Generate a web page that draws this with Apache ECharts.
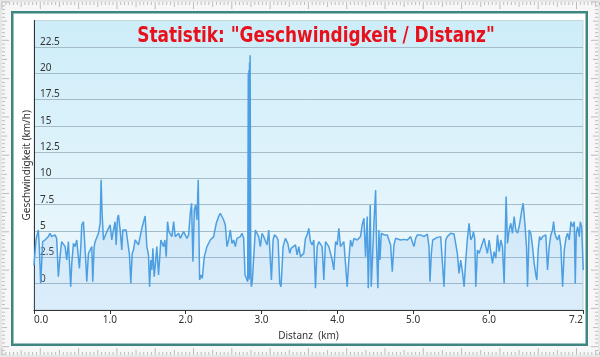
<!DOCTYPE html>
<html>
<head>
<meta charset="utf-8">
<script src="https://cdn.jsdelivr.net/npm/echarts@6/dist/echarts.min.js"></script>
<style>
html,body{margin:0;padding:0;background:#fafafa;}
#chart{width:600px;height:357px;}
</style>
</head>
<body>
<div id="chart"></div>
<script>
// ---- Data ----
const titleText = 'Statistik: "Geschwindigkeit / Distanz"';
const xAxisName = 'Distanz  (km)';
const yAxisName = 'Geschwindigkeit (km/h)';
const xTickValues = [0, 1, 2, 3, 4, 5, 6, 7.24];
const yMin = -2.5, yMax = 25, yStep = 2.5;

const distanceKm = [
0.000,0.026,0.057,0.070,0.088,0.101,0.114,0.145,0.167,0.189,
0.211,0.233,0.255,0.277,0.299,0.321,0.343,0.365,0.387,0.410,
0.432,0.454,0.467,0.484,0.498,0.520,0.542,0.564,0.586,0.599,
0.616,0.630,0.652,0.674,0.687,0.696,0.718,0.740,0.762,0.775,
0.793,0.806,0.828,0.850,0.872,0.885,0.898,0.916,0.938,0.960,
0.982,1.004,1.026,1.048,1.070,1.083,1.101,1.114,1.136,1.158,
1.171,1.189,1.215,1.237,1.259,1.277,1.295,1.312,1.334,1.356,
1.378,1.400,1.422,1.444,1.466,1.488,1.510,1.524,1.541,1.554,
1.568,1.585,1.598,1.620,1.642,1.656,1.673,1.691,1.708,1.726,
1.744,1.761,1.779,1.797,1.819,1.841,1.863,1.885,1.907,1.929,
1.951,1.973,1.995,2.017,2.039,2.061,2.078,2.096,2.114,2.131,
2.149,2.166,2.184,2.202,2.219,2.246,2.281,2.325,2.369,2.404,
2.435,2.457,2.479,2.501,2.523,2.545,2.567,2.589,2.611,2.633,
2.655,2.677,2.699,2.721,2.743,2.765,2.783,2.800,2.818,
2.826,2.830,2.834,2.838,2.842,2.846,2.850,2.857,2.862,2.868,
2.880,2.919,2.941,2.963,2.985,3.007,3.029,3.052,3.074,3.096,
3.118,3.131,3.153,3.170,3.197,3.219,3.241,3.258,3.285,3.316,
3.347,3.373,3.391,3.417,3.448,3.470,3.492,3.514,3.536,3.558,
3.580,3.602,3.624,3.646,3.668,3.690,3.712,3.734,3.756,3.778,
3.800,3.822,3.844,3.866,3.888,3.910,3.932,3.954,3.976,3.998,
4.020,4.042,4.064,4.086,4.108,4.130,4.152,4.174,4.196,4.218,
4.240,4.262,4.284,4.306,4.328,4.351,4.373,4.394,4.408,4.421,
4.434,4.447,4.461,4.483,4.505,4.518,4.535,4.549,4.562,4.580,
4.615,4.659,4.681,4.703,4.725,4.747,4.769,4.791,4.835,4.879,
4.923,4.945,4.967,4.989,5.011,5.033,5.055,5.077,5.099,5.143,
5.165,5.187,5.209,5.222,5.240,5.258,5.275,5.319,5.363,5.385,
5.407,5.429,5.451,5.473,5.495,5.539,5.561,5.583,5.605,5.627,
5.650,5.672,5.694,5.716,5.738,5.760,5.782,5.795,5.812,5.826,
5.848,5.870,5.892,5.914,5.936,5.958,5.980,6.002,6.024,6.046,
6.068,6.090,6.112,6.134,6.156,6.178,6.200,6.213,6.226,6.244,
6.266,6.288,6.310,6.332,6.354,6.376,6.398,6.420,6.433,6.451,
6.473,6.495,6.508,6.530,6.552,6.574,6.596,6.618,6.631,6.649,
6.667,6.684,6.706,6.728,6.750,6.772,6.794,6.816,6.838,6.852,
6.869,6.882,6.904,6.926,6.948,6.971,6.993,7.015,7.037,7.059,
7.081,7.103,7.125,7.138,7.151,7.169,7.191,7.204,7.222,7.243
];

const speedKmh = [
1.77,4.15,5.10,3.52,0.03,1.93,3.99,4.15,3.99,4.47,
4.79,4.47,4.31,4.63,4.31,0.67,2.57,3.99,4.15,3.52,
2.25,3.99,4.15,-0.29,1.93,3.83,3.52,4.15,4.31,1.46,
3.36,5.58,5.89,5.74,1.62,0.19,2.88,3.20,3.52,0.19,
3.52,3.99,3.83,4.79,5.74,9.86,6.69,4.15,4.31,4.94,
5.26,5.58,4.15,5.10,5.89,3.68,6.21,6.53,5.10,3.20,
5.10,4.94,5.10,5.26,2.73,0.03,2.88,3.20,4.15,4.31,
3.68,4.47,5.26,5.42,6.43,3.52,2.73,-0.29,2.25,1.30,
3.36,0.67,1.62,3.52,0.82,2.25,4.15,4.31,3.52,4.15,
2.57,5.89,4.94,4.79,4.47,5.89,4.47,4.31,4.79,4.31,
4.63,4.94,4.79,4.31,4.63,6.69,7.64,2.09,7.00,7.48,
6.05,9.86,0.35,0.82,0.51,2.57,3.52,4.15,4.47,5.74,
6.37,6.69,6.85,6.05,5.58,3.52,4.15,5.10,3.83,4.15,
3.52,4.31,4.15,4.47,4.79,4.31,0.82,0.51,0.19,
20.0,0.5,20.3,0.4,21.0,0.6,21.7,4.8,0.0,-0.29,
0.35,5.10,4.79,4.47,3.52,4.79,4.47,4.31,3.68,5.10,
5.26,0.35,4.15,4.63,4.47,4.15,0.03,-0.29,3.52,4.31,
3.83,2.88,3.36,3.20,3.68,2.73,3.52,2.57,2.41,2.88,
4.31,4.63,5.26,3.99,3.68,4.15,-0.44,3.52,3.99,4.15,
3.52,0.35,3.99,3.83,3.52,3.68,2.25,1.30,3.99,3.68,
5.26,3.52,3.68,3.99,1.93,-0.29,2.25,4.15,3.52,4.31,
4.47,4.15,3.99,4.47,5.58,6.21,2.57,6.37,-0.44,3.20,
7.48,-0.29,1.93,5.74,8.90,3.52,-0.44,5.10,2.25,4.79,
4.63,4.63,4.47,3.68,1.14,3.68,4.31,4.21,4.15,4.21,
4.15,4.31,4.47,3.99,3.52,4.31,4.63,4.79,4.63,4.47,
4.63,4.72,3.52,0.19,2.88,4.15,4.31,4.40,4.47,4.31,
-0.29,4.15,4.47,4.63,4.79,4.72,4.63,2.88,0.98,2.25,
1.14,-0.29,2.25,4.31,5.74,4.15,4.47,4.94,4.31,-0.29,
3.20,2.88,3.36,3.52,4.31,3.52,2.88,4.15,4.31,1.93,
3.04,2.41,4.63,3.04,4.15,3.52,0.03,4.15,8.27,3.83,
5.10,5.74,4.79,6.37,5.10,4.79,5.42,6.37,7.00,7.64,
5.74,3.52,-0.29,5.10,4.79,3.52,1.93,0.82,0.35,3.20,
4.47,4.15,4.47,4.31,4.63,1.30,3.52,4.63,5.10,5.89,
4.79,4.47,4.15,4.63,3.52,-0.29,3.20,4.31,4.79,4.15,
5.89,5.42,5.89,0.03,4.79,5.42,4.47,5.89,5.42,1.30
];

// ---- Build chart ----
const seriesData = distanceKm.map((d, i) => [d, speedKmh[i]]);

// decorative frame + rulers
const deco = [];
deco.push({type:'rect', z:-20, shape:{x:0,y:0,width:600,height:357}, style:{fill:'#e6e6e6'}});
deco.push({type:'rect', z:-19, shape:{x:2,y:2,width:596,height:353}, style:{fill:'#f7f7f7'}});
const step = 3.83;
for (let i = 0; i * step < 600; i++) {
  const p = 2 + i * step;
  const len = (i % 10 === 0) ? 7 : (i % 5 === 0 ? 5 : 3);
  deco.push({type:'line', z:-18, shape:{x1:p,y1:2,x2:p,y2:2+len}, style:{stroke:'#bdbdbd',lineWidth:1}});
  deco.push({type:'line', z:-18, shape:{x1:p,y1:355,x2:p,y2:355-len}, style:{stroke:'#bdbdbd',lineWidth:1}});
}
for (let i = 0; i * step < 357; i++) {
  const p = 2 + i * step;
  const len = (i % 10 === 0) ? 7 : (i % 5 === 0 ? 5 : 3);
  deco.push({type:'line', z:-18, shape:{x1:2,y1:p,x2:2+len,y2:p}, style:{stroke:'#bdbdbd',lineWidth:1}});
  deco.push({type:'line', z:-18, shape:{x1:598,y1:p,x2:598-len,y2:p}, style:{stroke:'#bdbdbd',lineWidth:1}});
}
deco.push({type:'rect', z:-17, shape:{x:12.5,y:12.5,width:574,height:332}, style:{fill:'#ffffff', stroke:'#3f8580', lineWidth:3}});
deco.push({type:'rect', z:-16, shape:{x:13.5,y:13.5,width:572,height:330}, style:{fill:null, stroke:'#98c4c0', lineWidth:1}});
deco.push({type:'text', z:10, x:316, y:36, scaleX:0.855, style:{
  text:titleText, fill:'#e8101a', align:'center', verticalAlign:'middle',
  font:'bold 22px "DejaVu Sans Condensed", "DejaVu Sans", sans-serif'
}});

const chart = echarts.init(document.getElementById('chart'), null, {renderer:'canvas'});
chart.setOption({
  animation:false,
  graphic: deco,
  grid:{
    left:34, right:17, top:20.5, bottom:47, show:true,
    borderColor:'#c5d5dc', borderWidth:1,
    backgroundColor:new echarts.graphic.LinearGradient(0,0,0,1,[
      {offset:0,color:'#cdedf9'},{offset:1,color:'#f1f9fd'}
    ])
  },
  xAxis:{
    type:'value', min:0, max:7.24, interval:1,
    name:xAxisName, nameLocation:'middle', nameGap:26, nameMoveOverlap:false,
    nameTextStyle:{color:'#333', fontSize:10, fontFamily:'Noto Sans', verticalAlign:'middle'},
    axisLine:{show:true, onZero:false, lineStyle:{color:'#333', width:1}},
    axisTick:{show:true, length:4, customValues:xTickValues, lineStyle:{color:'#333'}},
    axisLabel:{customValues:xTickValues, formatter:v => (Math.floor(v*10+1e-6)/10).toFixed(1),
      color:'#333', fontSize:10, fontFamily:'Noto Sans', margin:5,
      alignMinLabel:'left', alignMaxLabel:'right'},
    splitLine:{show:false}
  },
  yAxis:{
    type:'value', min:yMin, max:yMax, interval:yStep,
    name:yAxisName, nameLocation:'middle', nameGap:7, nameRotate:90, nameMoveOverlap:false,
    nameTextStyle:{color:'#333', fontSize:10, fontFamily:'Noto Sans', verticalAlign:'middle'},
    axisLine:{show:true, lineStyle:{color:'#333', width:1}},
    axisTick:{show:false},
    axisLabel:{inside:true, margin:6, verticalAlign:'bottom', color:'#333', fontSize:10, fontFamily:'Noto Sans',
      formatter:v => (v === yMax || v === yMin) ? '' : String(v)},
    splitLine:{show:true, showMinLine:false, showMaxLine:false, lineStyle:{color:'#a3bcc7', width:1}}
  },
  series:[{
    type:'line', data:seriesData, symbol:'none', smooth:false,
    lineStyle:{color:'#4d9fe2', width:1.5},
    areaStyle:{origin:'start', color:'rgba(120,180,235,0.24)'},
    z:3
  }]
});
</script>
</body>
</html>
